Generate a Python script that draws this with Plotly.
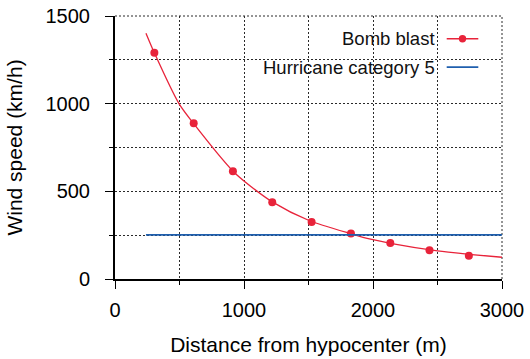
import plotly.graph_objects as go

# Data
BLAST_X = [305, 610, 914, 1219, 1524, 1829, 2134, 2438, 2743]        # m
BLAST_Y = [1291, 889, 615, 438, 325, 260, 205, 164, 132]              # km/h
FIT_X = [240, 305, 496, 607, 915, 1046, 1219, 1500, 1830, 2000, 2136, 2500, 2744, 3000]
FIT_Y = [1402, 1290, 1000, 889, 615, 532, 440, 335, 258, 224, 203, 160, 141, 124]
HURRICANE_X = [240, 3000]
HURRICANE_Y = [252, 252]

SERIES_NAMES = ["Bomb blast", "Hurricane category 5"]
X_TICKS = [0, 1000, 2000, 3000]
Y_TICKS = [0, 500, 1000, 1500]

RED = "#e8233a"
BLUE = "#1f5fae"
FONT = "Liberation Sans, Arial, sans-serif"
GRID = "#2a2a2a"

fig = go.Figure()
fig.add_trace(go.Scatter(x=FIT_X, y=FIT_Y, mode="lines",
                         line=dict(color=RED, width=1.3, shape="spline", smoothing=0.8),
                         showlegend=False, hoverinfo="skip"))
fig.add_trace(go.Scatter(x=BLAST_X, y=BLAST_Y, mode="markers", name=SERIES_NAMES[0],
                         marker=dict(color=RED, size=8, line=dict(width=0)),
                         showlegend=False))
fig.add_trace(go.Scatter(x=HURRICANE_X, y=HURRICANE_Y, mode="lines", name=SERIES_NAMES[1],
                         line=dict(color=BLUE, width=1.8), showlegend=False))

axis_common = dict(
    showline=True, linecolor="black", linewidth=2, mirror=False,
    ticks="outside", ticklen=8, tickwidth=1, tickcolor="black",
    showgrid=True, gridcolor=GRID, gridwidth=1, griddash="2px,2px",
    zeroline=False,
    tickfont=dict(family=FONT, size=20, color="black"),
)

fig.update_xaxes(range=[0, 3000], tickvals=X_TICKS, ticktext=[str(v) for v in X_TICKS],
                 ticklabelstandoff=4,
                 minor=dict(dtick=500, tick0=0, ticks="outside", ticklen=4, tickcolor="black",
                            showgrid=True, gridcolor=GRID, gridwidth=1, griddash="2px,2px"),
                 title=dict(text="Distance from hypocenter (m)", standoff=17,
                            font=dict(family=FONT, size=21, color="black")),
                 **axis_common)
fig.update_yaxes(range=[0, 1500], tickvals=Y_TICKS, ticktext=[str(v) for v in Y_TICKS],
                 ticklabelstandoff=11,
                 minor=dict(dtick=250, tick0=0, ticks="outside", ticklen=4, tickcolor="black",
                            showgrid=True, gridcolor=GRID, gridwidth=1, griddash="2px,2px"),
                 title=dict(text="Wind speed (km/h)", standoff=17,
                            font=dict(family=FONT, size=21, color="black")),
                 **axis_common)

# custom legend (text on the left, sample on the right)
W, H = 387.0, 263.8
def px_x(p):
    return (p - 115.0) / W
def px_y(p):
    return (279.3 - p) / H

shapes = [
    # dotted top / right borders
    dict(type="line", xref="paper", yref="paper", x0=0, x1=1, y0=1, y1=1,
         line=dict(color=GRID, width=1, dash="2px,2px"), layer="between"),
    dict(type="line", xref="paper", yref="paper", x0=1, x1=1, y0=0, y1=1,
         line=dict(color=GRID, width=1, dash="2px,2px"), layer="between"),
    # white legend background
    dict(type="rect", xref="paper", yref="paper", x0=px_x(262), x1=px_x(489),
         y0=px_y(80), y1=px_y(25), fillcolor="white", line=dict(width=0), layer="between"),
    dict(type="line", xref="paper", yref="paper", x0=px_x(446.7), x1=px_x(478.3),
         y0=px_y(38.3), y1=px_y(38.3), line=dict(color=RED, width=1.3), layer="above"),
    dict(type="circle", xref="paper", yref="paper", xsizemode="pixel", ysizemode="pixel",
         xanchor=px_x(462.5), yanchor=px_y(38.3), x0=-3.7, x1=3.7, y0=-3.7, y1=3.7,
         fillcolor=RED, line=dict(width=0), layer="above"),
    dict(type="line", xref="paper", yref="paper", x0=px_x(446.7), x1=px_x(478.3),
         y0=px_y(66.7), y1=px_y(66.7), line=dict(color=BLUE, width=1.8), layer="above"),
]
annotations = [
    dict(xref="paper", yref="paper", x=px_x(437), y=px_y(38.3), xanchor="right", yanchor="middle",
         text=SERIES_NAMES[0], showarrow=False, font=dict(family=FONT, size=18.5, color="#111")),
    dict(xref="paper", yref="paper", x=px_x(437), y=px_y(66.7), xanchor="right", yanchor="middle",
         text=SERIES_NAMES[1], showarrow=False, font=dict(family=FONT, size=18.5, color="#111")),
]

fig.update_layout(
    width=530, height=359,
    margin=dict(l=115, r=28, t=16, b=80, autoexpand=False),
    paper_bgcolor="white", plot_bgcolor="white",
    shapes=shapes, annotations=annotations,
    showlegend=False,
    font=dict(family=FONT, color="black"),
)

fig.write_html("out.html", config={"displayModeBar": False},
               post_script="document.body.style.margin='0';document.body.style.overflow='hidden';")
